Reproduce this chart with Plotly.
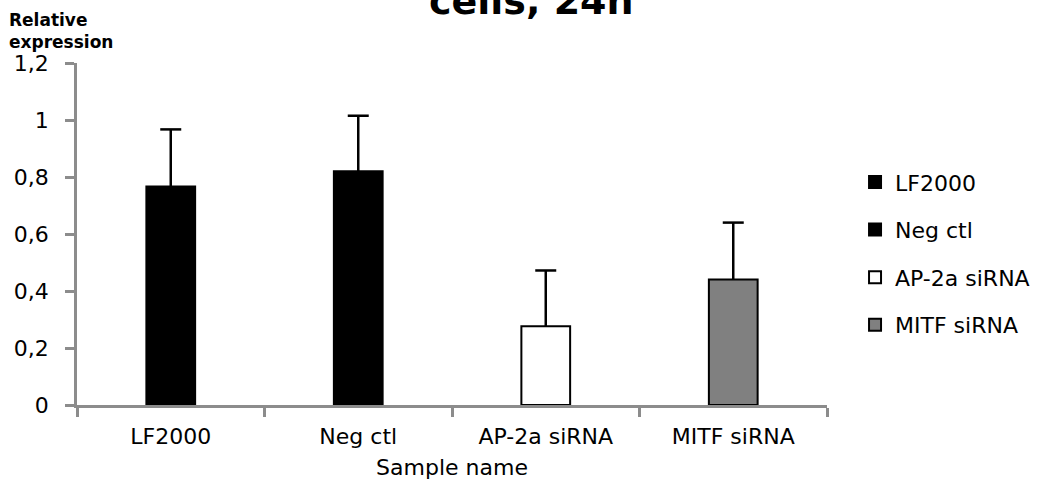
import plotly.graph_objects as go

categories = ["LF2000", "Neg ctl", "AP-2a siRNA", "MITF siRNA"]
values = [0.767, 0.82, 0.276, 0.44]
errors = [0.2, 0.195, 0.196, 0.2]
fill_colors = ["#000000", "#000000", "#ffffff", "#808080"]
y_ticks = [0, 0.2, 0.4, 0.6, 0.8, 1, 1.2]

FONT = "DejaVu Sans"

fig = go.Figure()
for i, cat in enumerate(categories):
    fig.add_trace(go.Bar(
        x=[cat], y=[values[i]], name=cat,
        width=0.26,
        marker=dict(color=fill_colors[i], line=dict(color="#000000", width=2)),
        legendgroup=cat,
    ))

# positive-only error bars: stem via error_y (no caps), cap via line-ew marker
tops = [v + e for v, e in zip(values, errors)]
fig.add_trace(go.Scatter(
    x=categories, y=tops, mode="markers", showlegend=False, hoverinfo="skip",
    marker=dict(symbol="line-ew", size=15, color="#000000",
                line=dict(color="#000000", width=2.5)),
    error_y=dict(type="data", array=[0] * len(errors), arrayminus=errors, symmetric=False,
                 color="#000000", thickness=2.5, width=0),
))

fig.update_layout(
    width=1046, height=483,
    margin=dict(l=77, r=218, t=63, b=78),
    paper_bgcolor="white", plot_bgcolor="white",
    barmode="overlay",
    separators=", ",
    showlegend=True,
    font=dict(family=FONT, size=22, color="#000000"),
    legend=dict(x=1.036, xanchor="left", y=0.713, yanchor="top",
                font=dict(family=FONT, size=22, color="#000000"),
                tracegroupgap=16, bgcolor="rgba(0,0,0,0)"),
    xaxis=dict(
        type="category", categoryorder="array", categoryarray=categories,
        showline=True, linecolor="#8c8c8c", linewidth=2.5,
        ticks="outside", tickson="boundaries", ticklen=9, tickcolor="#8c8c8c", tickwidth=2.5,
        ticklabelstandoff=10, automargin=False,
        tickfont=dict(family=FONT, size=22, color="#000000"),
        title=dict(text="Sample name", font=dict(family=FONT, size=22, color="#000000"), standoff=12),
        showgrid=False, zeroline=False,
    ),
    yaxis=dict(
        range=[0, 1.2], tickvals=y_ticks,
        showline=True, linecolor="#8c8c8c", linewidth=2.5,
        ticks="outside", ticklen=9, tickcolor="#8c8c8c", tickwidth=2.5,
        ticklabelstandoff=12, automargin=False,
        tickfont=dict(family=FONT, size=22, color="#000000"),
        showgrid=False, zeroline=False,
    ),
    annotations=[
        dict(text="<b>Relative<br>expression</b>", xref="paper", yref="paper",
             x=-0.094, y=1.16, xanchor="left", yanchor="top", align="left",
             showarrow=False, font=dict(family=FONT, size=17, color="#000000")),
        dict(text="<b>cells, 24h</b>", xref="paper", yref="paper",
             x=0.606, y=1.112, xanchor="center", yanchor="bottom",
             showarrow=False, font=dict(family=FONT, size=38, color="#000000")),
    ],
)

fig.write_html("out.html", config={"displayModeBar": False},
               post_script="document.body.style.margin='0px';document.body.style.padding='0px';")
